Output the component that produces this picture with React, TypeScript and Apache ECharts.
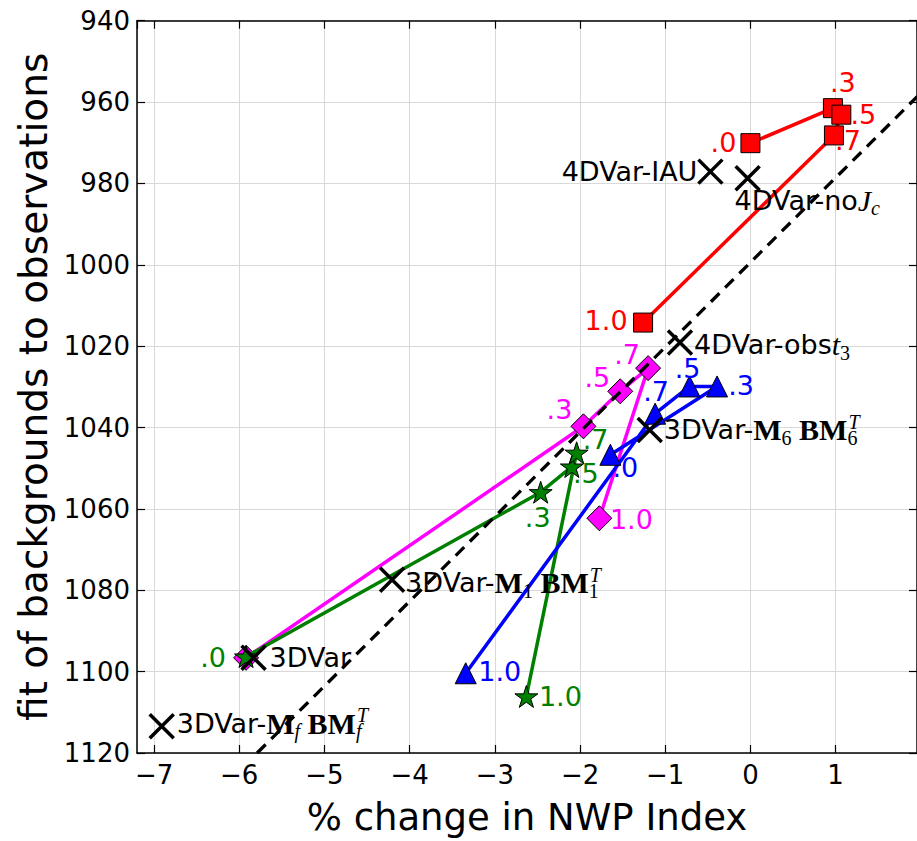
import { useEffect, useRef } from 'react';
import * as echarts from 'echarts';

// ---- data ----
const weightLabels = ['.0', '.3', '.5', '.7', '1.0'];

const redX = [0.0, 0.968, 1.067, 0.98, -1.26];
const redY = [970.1, 961.5, 963.1, 968.2, 1014.2];

const magentaX = [-5.92, -1.96, -1.528, -1.201, -1.773];
const magentaY = [1096.6, 1039.7, 1031.1, 1025.4, 1062.3];

const greenX = [-5.92, -2.462, -2.096, -2.04, -2.63];
const greenY = [1096.3, 1055.9, 1049.6, 1046.2, 1106.1];

const blueX = [-1.644, -0.392, -0.715, -1.119, -3.342];
const blueY = [1046.7, 1029.9, 1029.9, 1036.6, 1100.4];

const expNames = [
  '4DVar-IAU',
  '4DVar-noJc',
  '4DVar-obst3',
  '3DVar-M6BM6T',
  '3DVar-M1BM1T',
  '3DVar',
  '3DVar-MfBMfT',
];
const expX = [-0.47, -0.033, -0.827, -1.182, -4.206, -5.832, -6.91];
const expY = [977.1, 978.7, 1019.1, 1040.6, 1077.4, 1096.6, 1113.4];

const fitX = [-5.79, 1.96];
const fitY = [1120, 958.6];

const xLimits = [-7.2, 1.955];
const yLimits = [940, 1120];
const yStep = 20;

const xTitle = '% change in NWP Index';
const yTitle = 'fit of backgrounds to observations';

// rich-text markup of experiment labels (same order as expNames)
const expMarkup = [
  '{n|4DVar-IAU}',
  '{n|4DVar-no}{i|J}{subi|c}',
  '{n|4DVar-obs}{i|t}{sub|3}',
  '{n|3DVar-}{b|M}{sub|6}{b| BM}{subz|6}{sup|T}',
  '{n|3DVar-}{b|M}{sub|1}{b| BM}{subz|1}{sup|T}',
  '{n|3DVar}',
  '{n|3DVar-}{b|M}{subi|f}{b| BM}{subzi|f}{sup|T}',
];

// ---- label layout (styling) ----
const redOffsets = [[-27, -1], [10, -26], [22, 0], [14, 5], [-37, -2]];
const magentaOffsets = [[0, 0], [-24, -17], [-23, -14], [-21, -14], [32, 1]];
const magentaHidden = [0];
const greenOffsets = [[-33, 1], [-3, 25], [14, 7], [19, -13], [34, 0]];
const blueOffsets = [[15, 13], [24, -1], [-2, -18], [1, -22], [34, -2]];
const expAlign = ['right', 'left', 'left', 'left', 'left', 'left', 'left'];
const expOffsets = [[-13, 0], [-13, 22], [14, 2], [14, 0], [13, 3], [16, 0], [15, -3]];

const FONT = 'DejaVu Sans';
const SERIF = 'Liberation Serif';

function starPath(): string {
  const pts: string[] = [];
  for (let i = 0; i < 10; i++) {
    const a = (-90 + i * 36) * Math.PI / 180;
    const r = i % 2 === 0 ? 50 : 19.1;
    pts.push(`${(50 + r * Math.cos(a)).toFixed(2)},${(50 + r * Math.sin(a)).toFixed(2)}`);
  }
  return 'path://M' + pts.join('L') + 'Z';
}

const X_SYMBOL = 'path://M0,0L10,10M10,0L0,10';

function weightSeries(
  name: string, xs: number[], ys: number[], color: string,
  symbol: string, symbolSize: number, offsets: number[][], hidden: number[] = [], z = 2
) {
  return {
    type: 'line',
    name,
    z,
    data: xs.map((x, i) => ({
      value: [x, ys[i]],
      label: { show: !hidden.includes(i), offset: offsets[i] },
    })),
    symbol,
    symbolSize,
    symbolKeepAspect: true,
    showSymbol: true,
    showAllSymbol: true,
    clip: false,
    lineStyle: { color, width: 3.5 },
    itemStyle: { color, borderColor: '#000', borderWidth: 1, opacity: 1 },
    label: {
      show: true,
      position: 'inside',
      formatter: (p: any) => weightLabels[p.dataIndex],
      color,
      fontSize: 27,
      fontFamily: FONT,
      textBorderWidth: 0,
      textBorderColor: 'transparent',
    },
    emphasis: { disabled: true },
  };
}

export default function App() {
  const ref = useRef<HTMLDivElement>(null);

  useEffect(() => {
    if (!ref.current) return;
    const chart = echarts.init(ref.current, undefined, { renderer: 'svg' });

    const black = '#000000';
    const axisLineStyle = { color: black, width: 1.5 };
    const tickStyle = { show: true, inside: true, length: 8, lineStyle: { color: black, width: 1.2 } };
    const gridLine = { show: true, lineStyle: { color: '#d9d9d9', width: 1 } };

    const rich = {
      n: { fontFamily: FONT, fontSize: 27, color: black, lineHeight: 36 },
      i: { fontFamily: SERIF, fontStyle: 'italic', fontSize: 30, color: black, lineHeight: 36 },
      b: { fontFamily: SERIF, fontWeight: 'bold', fontSize: 30, color: black, lineHeight: 36 },
      sub: { fontFamily: SERIF, fontSize: 20, color: black, lineHeight: 19, verticalAlign: 'bottom' },
      subi: { fontFamily: SERIF, fontStyle: 'italic', fontSize: 20, color: black, lineHeight: 19, verticalAlign: 'bottom' },
      subz: { fontFamily: SERIF, fontSize: 20, color: black, lineHeight: 19, verticalAlign: 'bottom', width: 1 },
      subzi: { fontFamily: SERIF, fontStyle: 'italic', fontSize: 20, color: black, lineHeight: 19, verticalAlign: 'bottom', width: 1 },
      sup: { fontFamily: SERIF, fontStyle: 'italic', fontSize: 20, color: black, lineHeight: 17, verticalAlign: 'top' },
    };

    const minusFmt = (v: number) => (v < 0 ? '\u2212' + Math.abs(v) : String(v));
    const plainFmt = (v: number) => String(v);

    const option: any = {
      animation: false,
      backgroundColor: '#ffffff',
      grid: { left: 137, top: 20.7, right: -4, bottom: 82.3, containLabel: false },
      xAxis: [
        {
          type: 'value',
          position: 'bottom',
          min: xLimits[0],
          max: xLimits[1],
          splitNumber: 9,
          axisLine: { show: true, onZero: false, lineStyle: axisLineStyle },
          axisTick: tickStyle,
          axisLabel: {
            show: true,
            interval: 0,
            showMinLabel: false,
            showMaxLabel: false,
            margin: 9,
            fontFamily: FONT,
            fontSize: 26,
            color: black,
            formatter: minusFmt,
          },
          splitLine: gridLine,
          name: xTitle,
          nameLocation: 'middle',
          nameGap: 46,
          nameTextStyle: { fontFamily: FONT, fontSize: 37, color: black },
        },
        {
          type: 'value',
          position: 'top',
          min: xLimits[0],
          max: xLimits[1],
          splitNumber: 9,
          axisLine: { show: true, onZero: false, lineStyle: axisLineStyle },
          axisTick: tickStyle,
          axisLabel: { show: false },
          splitLine: { show: false },
        },
      ],
      yAxis: [
        {
          type: 'value',
          position: 'left',
          inverse: true,
          min: yLimits[0],
          max: yLimits[1],
          interval: yStep,
          axisLine: { show: true, onZero: false, lineStyle: axisLineStyle },
          axisTick: tickStyle,
          axisLabel: {
            show: true,
            margin: 7,
            fontFamily: FONT,
            fontSize: 26,
            color: black,
            formatter: plainFmt,
          },
          splitLine: gridLine,
          name: yTitle,
          nameLocation: 'middle',
          nameGap: 71,
          nameTextStyle: { fontFamily: FONT, fontSize: 39, color: black },
        },
        {
          type: 'value',
          position: 'right',
          inverse: true,
          min: yLimits[0],
          max: yLimits[1],
          interval: yStep,
          axisLine: { show: true, onZero: false, lineStyle: axisLineStyle },
          axisTick: tickStyle,
          axisLabel: { show: false },
          splitLine: { show: false },
        },
      ],
      series: [
        weightSeries('red', redX, redY, '#ff0000', 'rect', 19, redOffsets, [], 2),
        weightSeries('magenta', magentaX, magentaY, '#ff00ff', 'diamond', 25, magentaOffsets, magentaHidden, 3),
        weightSeries('green', greenX, greenY, '#008000', starPath(), 23, greenOffsets, [], 4),
        weightSeries('blue', blueX, blueY, '#0000ff', 'triangle', 21, blueOffsets, [], 5),
        {
          type: 'scatter',
          name: 'experiments',
          z: 7,
          symbol: X_SYMBOL,
          symbolSize: 24,
          itemStyle: { color: black, borderColor: black, borderWidth: 3.5, opacity: 1 },
          data: expX.map((x, i) => ({
            value: [x, expY[i]],
            name: expNames[i],
            label: { align: expAlign[i], offset: expOffsets[i] },
          })),
          label: {
            show: true,
            position: 'inside',
            verticalAlign: 'middle',
            formatter: (p: any) => expMarkup[p.dataIndex],
            rich,
            color: black,
            opacity: 1,
            fontFamily: FONT,
            fontSize: 27,
            textBorderWidth: 0,
            textBorderColor: 'transparent',
          },
          emphasis: { disabled: true },
        },
        {
          type: 'line',
          name: 'fit',
          z: 6,
          data: fitX.map((x, i) => [x, fitY[i]]),
          showSymbol: false,
          symbol: 'none',
          clip: true,
          lineStyle: { color: black, width: 3.3, type: [12, 8] },
          emphasis: { disabled: true },
        },
      ],
    };

    chart.setOption(option);
    return () => chart.dispose();
  }, []);

  return (
    <div
      ref={ref}
      style={{ position: 'fixed', left: 0, top: 0, width: 917, height: 841, background: '#fff' }}
    />
  );
}
